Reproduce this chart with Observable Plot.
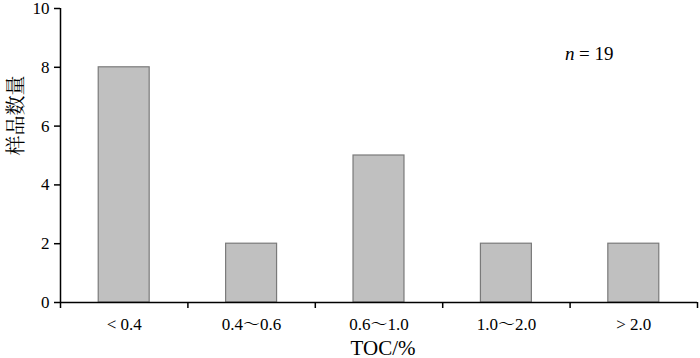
<!DOCTYPE html>
<html>
<head>
<meta charset="utf-8">
<script src="https://cdn.jsdelivr.net/npm/d3@7"></script>
<script src="https://cdn.jsdelivr.net/npm/@observablehq/plot@0.6"></script>
<style>
  html, body { margin: 0; padding: 0; background: #fff; }
  #chart svg { display: block; }
</style>
</head>
<body>
<div id="chart"></div>
<script>
const categories = ["< 0.4", "0.4～0.6", "0.6～1.0", "1.0～2.0", "> 2.0"];
const counts = [8, 2, 5, 2, 2];
const yTicks = [0, 2, 4, 6, 8, 10];
const yLabel = "样品数量";
const xLabel = "TOC/%";
const nLabel = "n";
const nValue = "= 19";

const data = categories.map((c, i) => ({cat: c, i, count: counts[i]}));
const idx = categories.map((c, i) => i);
const bounds = d3.range(categories.length + 1);
const font = "'Liberation Serif', 'Times New Roman', 'Noto Serif CJK SC', 'Noto Sans CJK SC', serif";

const chart = Plot.plot({
  width: 700,
  height: 358,
  marginLeft: 60,
  marginRight: 3,
  marginTop: 8,
  marginBottom: 56,
  style: {fontFamily: font, fontSize: "17px", color: "#000", background: "#fff"},
  x: {type: "linear", domain: [0, categories.length]},
  y: {domain: [0, 10]},
  marks: [
    Plot.rectY(data, {
      x1: d => d.i + 0.3, x2: d => d.i + 0.7, y1: 0, y2: "count",
      fill: "#c0c0c0", stroke: "#7a7a7a", strokeWidth: 1.2
    }),
    Plot.axisY({ticks: yTicks, tickSize: 6, tickPadding: 5, label: null,
      fontSize: 17, strokeWidth: 1.5}),
    Plot.axisX({ticks: bounds, tickSize: 6, tickFormat: () => "", label: null, strokeWidth: 1.5}),
    Plot.axisX({ticks: idx.map(i => i + 0.5), tickSize: 0, tickPadding: 15,
      tickFormat: v => categories[Math.round(v - 0.5)], label: null, fontSize: 17}),
    Plot.ruleX([0], {stroke: "#000", strokeWidth: 1.5}),
    Plot.ruleY([0], {stroke: "#000", strokeWidth: 1.5}),
    Plot.text([yLabel], {frameAnchor: "left", rotate: -90, dx: -44, fontSize: 20,
      fontFamily: "'Noto Serif CJK SC', 'Noto Sans CJK SC', serif", fill: "#000"}),
    Plot.text([xLabel], {frameAnchor: "bottom", dy: 52, dx: 4, lineAnchor: "bottom",
      fontSize: 21, fill: "#000"}),
    Plot.text([nLabel], {x: 4, y: 8.45, textAnchor: "start", dx: -5, fontSize: 19,
      fontStyle: "italic", fill: "#000"}),
    Plot.text([nValue], {x: 4, y: 8.45, textAnchor: "start", dx: 9, fontSize: 19, fill: "#000"})
  ]
});
document.getElementById("chart").appendChild(chart);
</script>
</body>
</html>
